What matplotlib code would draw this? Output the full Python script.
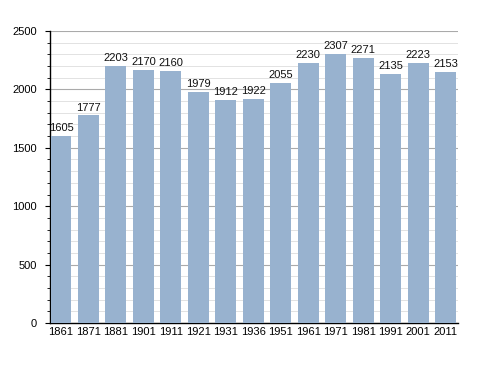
import matplotlib
matplotlib.use("Agg")
import matplotlib.pyplot as plt
from matplotlib.ticker import MultipleLocator

years = ["1861", "1871", "1881", "1901", "1911", "1921", "1931", "1936",
         "1951", "1961", "1971", "1981", "1991", "2001", "2011"]
population = [1605, 1777, 2203, 2170, 2160, 1979, 1912, 1922,
              2055, 2230, 2307, 2271, 2135, 2223, 2153]

plt.rcParams['font.family'] = ['Liberation Sans', 'DejaVu Sans']

fig = plt.figure(figsize=(4.88, 3.73), dpi=100)
ax = fig.add_axes([50/488, 1-323/373, 408/488, 292/373])

x = list(range(len(years)))
ax.bar(x, population, width=0.76, color='#98b2cf', zorder=3)
for xi, v in zip(x, population):
    ax.text(xi, v + 25, str(v), ha='center', va='bottom', fontsize=8, color='#111111', zorder=4)

ax.set_xlim(-0.4, 14.45)
ax.set_ylim(0, 2500)
ax.set_xticks(x)
ax.set_xticklabels(years, fontsize=8)
ax.yaxis.set_major_locator(MultipleLocator(500))
ax.yaxis.set_minor_locator(MultipleLocator(100))
ax.tick_params(axis='y', which='major', length=3.5, labelsize=8, width=0.8, pad=6)
ax.tick_params(axis='y', which='minor', length=2.2, width=0.6)
ax.tick_params(axis='x', length=0, pad=3)

ax.grid(axis='y', which='minor', color='#e2e2e2', linewidth=0.7, zorder=0)
ax.grid(axis='y', which='major', color='#aaaaaa', linewidth=0.8, zorder=1)

for s in ['top', 'right']:
    ax.spines[s].set_visible(False)
ax.spines['left'].set_linewidth(1.0)
ax.spines['bottom'].set_linewidth(1.0)

fig.savefig("out.png", dpi=100)
